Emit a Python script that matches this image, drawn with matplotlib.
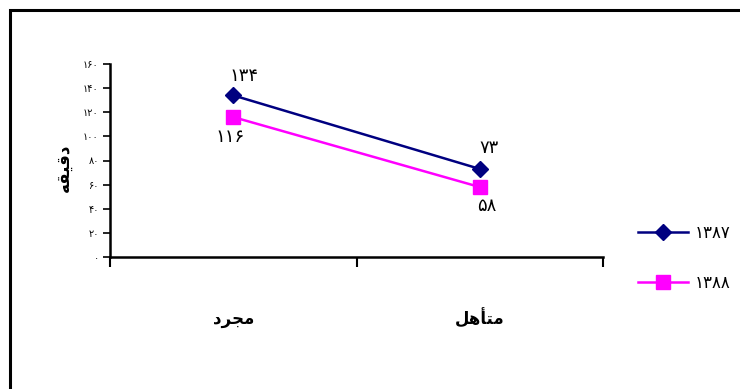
import numpy as np
import matplotlib
matplotlib.use("Agg")
import matplotlib.pyplot as plt
from matplotlib.patches import Rectangle

plt.rcParams['font.family'] = ['DejaVu Sans']

# data
# category names are stored in visual (left-to-right) presentation forms,
# matplotlib does no arabic shaping on its own
categories = ["\uFEA9\uFEAE\uFEA0\uFEE3",          # مجرد
              "\uFEDE\uFEEB\uFE84\uFE98\uFEE3"]    # متأهل
y_label = "\uFEEA\uFED8\uFEF4\uFED7\uFEA9"         # دقیقه
series_names = ["1387", "1388"]
values_1387 = [134, 73]
values_1388 = [116, 58]
y_ticks = [0, 20, 40, 60, 80, 100, 120, 140, 160]

FA_DIGITS = str.maketrans("0123456789", "\u06F0\u06F1\u06F2\u06F3\u06F4\u06F5\u06F6\u06F7\u06F8\u06F9")
def fa(v):
    return str(v).translate(FA_DIGITS)

fig = plt.figure(figsize=(7.4, 3.89), dpi=100)
W, H = 740, 389
ax = fig.add_axes([110/W, 1-257/H, (603-110)/W, (257-64)/H])

x = np.arange(len(categories)) + 0.5
styles = [dict(color="#000080", marker="D", ms=8),
          dict(color="#FF00FF", marker="s", ms=9.5)]
for vals, name, st in zip([values_1387, values_1388], series_names, styles):
    ax.plot(x, vals, color=st["color"], lw=1.8, marker=st["marker"],
            ms=st["ms"], mfc=st["color"], mec=st["color"], label=fa(name))

# data labels: first series above, second below (offsets in points)
above_off = [(8, 14), (7, 15)]
below_off = [(-2, -14), (5, -14)]
for xi, v, off in zip(x, values_1387, above_off):
    ax.annotate(fa(v), (xi, v), xytext=off, textcoords="offset points",
                ha="center", va="center", fontsize=13)
for xi, v, off in zip(x, values_1388, below_off):
    ax.annotate(fa(v), (xi, v), xytext=off, textcoords="offset points",
                ha="center", va="center", fontsize=13)

ax.set_xlim(0, len(categories))
ax.set_ylim(0, 160)
ax.set_yticks(y_ticks)
ax.set_yticklabels([fa(t) for t in y_ticks], fontsize=7)
ax.set_xticks(np.arange(len(categories) + 1))
ax.set_xticklabels([])
ax.tick_params(axis="y", direction="out", length=5, width=1.2, pad=3)
ax.tick_params(axis="x", direction="out", length=7, width=1.5)
for lab_x, cat in zip(x, categories):
    ax.text(lab_x, -0.32, cat, transform=ax.get_xaxis_transform(),
            ha="center", va="center", fontsize=12, fontweight="bold")

for s in ["top", "right"]:
    ax.spines[s].set_visible(False)
ax.spines["left"].set_linewidth(1.8)
ax.spines["bottom"].set_linewidth(1.8)

fig.text(64/W, 1-168/H, y_label, rotation=90, ha="center", va="center",
         fontsize=12, fontweight="bold")

ax.legend(loc="center left", bbox_to_anchor=(623/W, 1-258/H),
          bbox_transform=fig.transFigure, frameon=False, fontsize=12,
          handlelength=3.0, labelspacing=1.9, handletextpad=0.4)

# outer frame, cut off at right and bottom like the reference
fig.patches.append(Rectangle((9.5/W, -0.05), 1.0, 1 - 9.5/H + 0.05,
                             transform=fig.transFigure, fill=False,
                             lw=2.2, ec="black"))

fig.savefig("out.png", dpi=100)
